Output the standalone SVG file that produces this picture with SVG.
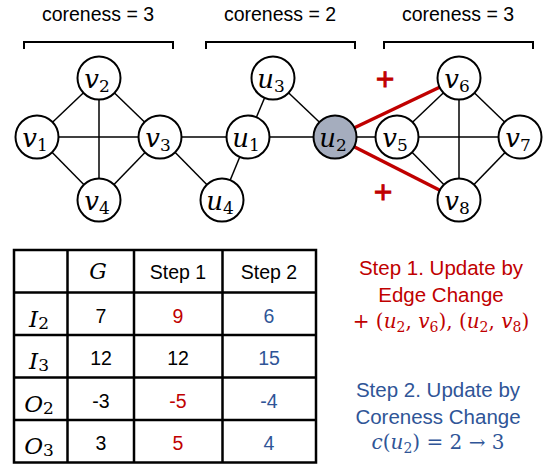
<svg xmlns="http://www.w3.org/2000/svg" width="551" height="468" viewBox="0 0 551 468">
  <style>
    .sans { font-family: "Liberation Sans", Arial, sans-serif; }
    .math { font-family: "DejaVu Serif", "Liberation Serif", serif; }
    .var { font-style: italic; }
    .edge { stroke: #000; stroke-width: 1.5; }
    .added { stroke: #C00000; stroke-width: 3.5; }
    .node circle { fill: #fff; stroke: #000; stroke-width: 2; }
    .node text { font-size: 26px; text-anchor: middle; fill: #000; }
    .sub { font-size: 17px; font-style: normal; }
    .bracket { fill: none; stroke: #000; stroke-width: 2; }
    .grid { stroke: #000; stroke-width: 2.5; fill: none; }
    .cell { font-size: 19.5px; text-anchor: middle; }
    .red { fill: #C00000; }
    .blue { fill: #2F5597; }
  </style>

  <!-- core labels and brackets -->
  <g id="core-labels" class="sans" font-size="19.5" text-anchor="middle">
    <text x="98" y="21">coreness = 3</text>
    <text x="280" y="21">coreness = 2</text>
    <text x="458" y="21">coreness = 3</text>
  </g>
  <g id="brackets">
    <path class="bracket" d="M24,49 V42 H173 V49"/>
    <path class="bracket" d="M206,49 V42 H355 V49"/>
    <path class="bracket" d="M384,49 V42 H533 V49"/>
  </g>

  <!-- edges -->
  <g id="connectors">
    <line class="edge" x1="37" y1="137" x2="99" y2="78"/>
    <line class="edge" x1="37" y1="137" x2="160" y2="137"/>
    <line class="edge" x1="37" y1="137" x2="99" y2="200"/>
    <line class="edge" x1="99" y1="78" x2="160" y2="137"/>
    <line class="edge" x1="99" y1="78" x2="99" y2="200"/>
    <line class="edge" x1="160" y1="137" x2="99" y2="200"/>
    <line class="edge" x1="160" y1="137" x2="248" y2="137"/>
    <line class="edge" x1="160" y1="137" x2="222" y2="200"/>
    <line class="edge" x1="222" y1="200" x2="248" y2="137"/>
    <line class="edge" x1="248" y1="137" x2="273" y2="78"/>
    <line class="edge" x1="248" y1="137" x2="335" y2="137"/>
    <line class="edge" x1="273" y1="78" x2="335" y2="137"/>
    <line class="edge" x1="335" y1="137" x2="397" y2="137"/>
    <line class="edge" x1="397" y1="137" x2="459" y2="78"/>
    <line class="edge" x1="397" y1="137" x2="520" y2="137"/>
    <line class="edge" x1="397" y1="137" x2="459" y2="200"/>
    <line class="edge" x1="459" y1="78" x2="520" y2="137"/>
    <line class="edge" x1="459" y1="78" x2="459" y2="200"/>
    <line class="edge" x1="520" y1="137" x2="459" y2="200"/>
    <line class="added" x1="335" y1="137" x2="459" y2="78"/>
    <line class="added" x1="335" y1="137" x2="459" y2="200"/>
  </g>

  <!-- nodes -->
  <g id="v1" class="node math"><circle cx="37" cy="137" r="21.5"/><text class="var" x="35" y="147">v<tspan class="sub" dy="4">1</tspan></text></g>
  <g id="v2" class="node math"><circle cx="99" cy="78" r="21.5"/><text class="var" x="97" y="88">v<tspan class="sub" dy="4">2</tspan></text></g>
  <g id="v3" class="node math"><circle cx="160" cy="137" r="21.5"/><text class="var" x="158" y="147">v<tspan class="sub" dy="4">3</tspan></text></g>
  <g id="v4" class="node math"><circle cx="99" cy="200" r="21.5"/><text class="var" x="97" y="210">v<tspan class="sub" dy="4">4</tspan></text></g>
  <g id="u1" class="node math"><circle cx="248" cy="137" r="21.5"/><text class="var" x="246" y="147">u<tspan class="sub" dy="4">1</tspan></text></g>
  <g id="u2" class="node math"><circle cx="335" cy="137" r="21.5" style="fill:#A5ADBE"/><text class="var" x="333" y="147">u<tspan class="sub" dy="4">2</tspan></text></g>
  <g id="u3" class="node math"><circle cx="273" cy="78" r="21.5"/><text class="var" x="271" y="88">u<tspan class="sub" dy="4">3</tspan></text></g>
  <g id="u4" class="node math"><circle cx="222" cy="200" r="21.5"/><text class="var" x="220" y="210">u<tspan class="sub" dy="4">4</tspan></text></g>
  <g id="v5" class="node math"><circle cx="397" cy="137" r="21.5"/><text class="var" x="395" y="147">v<tspan class="sub" dy="4">5</tspan></text></g>
  <g id="v6" class="node math"><circle cx="459" cy="78" r="21.5"/><text class="var" x="457" y="88">v<tspan class="sub" dy="4">6</tspan></text></g>
  <g id="v7" class="node math"><circle cx="520" cy="137" r="21.5"/><text class="var" x="518" y="147">v<tspan class="sub" dy="4">7</tspan></text></g>
  <g id="v8" class="node math"><circle cx="459" cy="200" r="21.5"/><text class="var" x="457" y="210">v<tspan class="sub" dy="4">8</tspan></text></g>

  <!-- added-edge markers -->
  <g id="plus-marks" class="sans red" font-size="32" text-anchor="middle" stroke="#C00000" stroke-width="0.8">
    <text x="385" y="89.5">+</text>
    <text x="383" y="202.5">+</text>
  </g>

  <!-- table -->
  <g id="table">
    <rect class="grid" x="14" y="250" width="302" height="212.5"/>
    <path class="grid" d="M67.5,250 V462.5 M134,250 V462.5 M222.5,250 V462.5 M14,292.5 H316 M14,335 H316 M14,377.5 H316 M14,420 H316"/>
    <text class="math var" x="98" y="279" font-size="22" text-anchor="middle">G</text>
    <text class="sans cell" x="178" y="279">Step 1</text>
    <text class="sans cell" x="269" y="279">Step 2</text>

    <text class="math var" x="39" y="326.5" font-size="23" text-anchor="middle">I<tspan class="sub" dy="2">2</tspan></text>
    <text class="math var" x="39" y="369" font-size="23" text-anchor="middle">I<tspan class="sub" dy="2">3</tspan></text>
    <text class="math var" x="39" y="411.5" font-size="23" text-anchor="middle">O<tspan class="sub" dy="2">2</tspan></text>
    <text class="math var" x="39" y="454" font-size="23" text-anchor="middle">O<tspan class="sub" dy="2">3</tspan></text>

    <text class="sans cell" x="101" y="322.5">7</text>
    <text class="sans cell red" x="178" y="322.5">9</text>
    <text class="sans cell blue" x="269" y="322.5">6</text>

    <text class="sans cell" x="101" y="365">12</text>
    <text class="sans cell" x="178" y="365">12</text>
    <text class="sans cell blue" x="269" y="365">15</text>

    <text class="sans cell" x="101" y="407.5">-3</text>
    <text class="sans cell red" x="178" y="407.5">-5</text>
    <text class="sans cell blue" x="269" y="407.5">-4</text>

    <text class="sans cell" x="101" y="450">3</text>
    <text class="sans cell red" x="178" y="450">5</text>
    <text class="sans cell blue" x="269" y="450">4</text>
  </g>

  <!-- step notes -->
  <g id="step1-note" class="red" text-anchor="middle">
    <text class="sans" x="441" y="275" font-size="20.5">Step 1. Update by</text>
    <text class="sans" x="441" y="301.5" font-size="20.5">Edge Change</text>
    <text class="math" x="441" y="328" font-size="20">+ (<tspan class="var">u</tspan><tspan font-size="14" dy="4">2</tspan><tspan dy="-4">, </tspan><tspan class="var">v</tspan><tspan font-size="14" dy="4">6</tspan><tspan dy="-4">), (</tspan><tspan class="var">u</tspan><tspan font-size="14" dy="4">2</tspan><tspan dy="-4">, </tspan><tspan class="var">v</tspan><tspan font-size="14" dy="4">8</tspan><tspan dy="-4">)</tspan></text>
  </g>
  <g id="step2-note" class="blue" text-anchor="middle">
    <text class="sans" x="438" y="397" font-size="20.5">Step 2. Update by</text>
    <text class="sans" x="438" y="423.5" font-size="20.5">Coreness Change</text>
    <text class="math" x="438" y="449" font-size="20"><tspan class="var">c</tspan>(<tspan class="var">u</tspan><tspan font-size="14" dy="4">2</tspan><tspan dy="-4">) = 2 → 3</tspan></text>
  </g>
</svg>
